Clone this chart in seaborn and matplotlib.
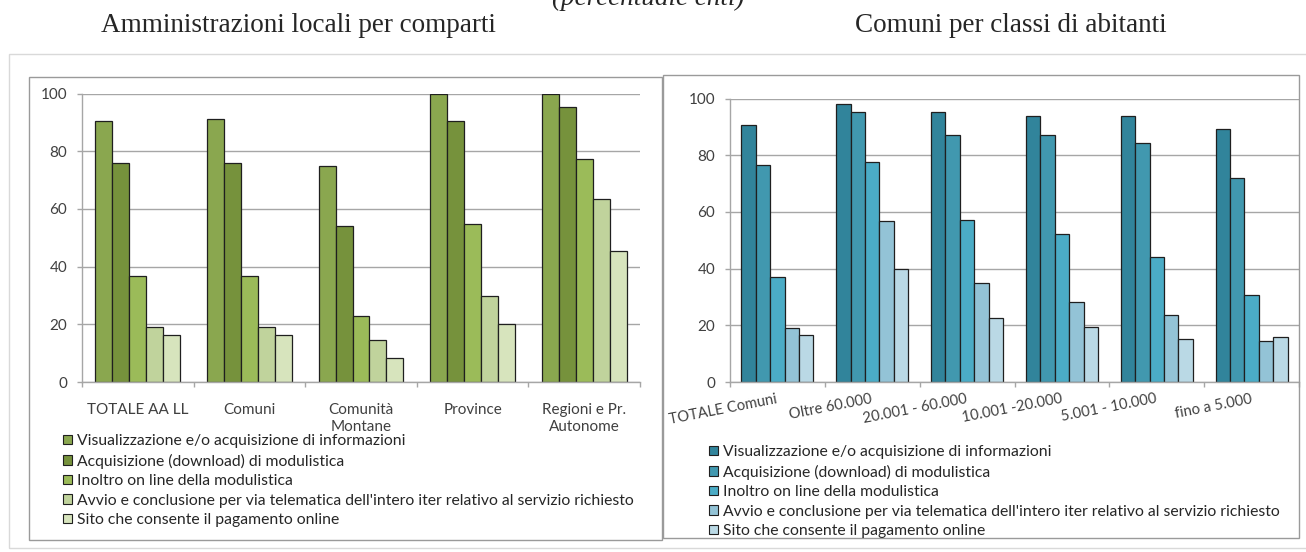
import numpy as np
import pandas as pd
import matplotlib
matplotlib.use('Agg')
import matplotlib.pyplot as plt
from matplotlib.patches import Patch, Rectangle
import seaborn as sns

# data (percent of entities)
series = [
    'Visualizzazione e/o acquisizione di informazioni',
    'Acquisizione (download) di modulistica',
    'Inoltro on line della modulistica',
    "Avvio e conclusione per via telematica dell'intero iter relativo al servizio richiesto",
    'Sito che consente il pagamento online',
]

comparti = ['TOTALE AA LL', 'Comuni', 'Comunità\nMontane', 'Province', 'Regioni e Pr.\nAutonome']
visual_left = [90.4, 91.0, 75.0, 100.0, 100.0]
download_left = [76.0, 76.0, 54.0, 90.4, 95.4]
inoltro_left = [36.8, 36.8, 22.8, 54.9, 77.3]
avvio_left = [19.1, 19.1, 14.6, 29.9, 63.3]
pagamento_left = [16.4, 16.4, 8.2, 20.0, 45.3]

classi = ['TOTALE Comuni', 'Oltre 60.000', '20.001 - 60.000', '10.001 -20.000', '5.001 - 10.000', 'fino a 5.000']
visual_right = [90.7, 98.2, 95.4, 94.0, 94.0, 89.4]
download_right = [76.4, 95.4, 87.0, 87.0, 84.2, 72.0]
inoltro_right = [36.9, 77.7, 57.2, 52.1, 44.2, 30.8]
avvio_right = [18.9, 56.7, 35.0, 28.1, 23.5, 14.6]
pagamento_right = [16.6, 40.0, 22.6, 19.5, 15.2, 15.8]

greens = ['#8AA74F', '#76923C', '#9BBB59', '#C0D39C', '#D7E4BD']
blues = ['#31849B', '#4198AF', '#4BACC6', '#93C3D6', '#BAD9E5']

W, H = 1306, 552
GRID = '#a6a6a6'
TXT = '#404040'

sns.set_style('white')
plt.rcParams['font.family'] = ['Lato', 'DejaVu Sans']


def long_table(cats, cols):
    rows = []
    for s, vals in zip(series, cols):
        for c, v in zip(cats, vals):
            rows.append({'cat': c, 'serie': s, 'val': v})
    return pd.DataFrame(rows)


def px_box(x0, y0, x1, y1):
    return [x0 / W, 1 - y1 / H, (x1 - x0) / W, (y1 - y0) / H]


def panel(ax, cats, cols, colors, rotate=False):
    df = long_table(cats, cols)
    sns.barplot(data=df, x='cat', y='val', hue='serie', order=cats,
                hue_order=series, palette=colors, saturation=1, width=0.76, gap=0,
                edgecolor='#1f1f1f', linewidth=0.9, legend=False, ax=ax)
    n = len(cats)
    ax.set_xlim(-0.5, n - 0.5)
    ax.set_ylim(0, 100)
    ax.set_yticks(range(0, 101, 20))
    ax.set_xlabel('')
    ax.set_ylabel('')
    ax.set_axisbelow(True)
    ax.yaxis.grid(True, color=GRID, lw=1)
    ax.xaxis.grid(False)
    for s in ['top', 'right']:
        ax.spines[s].set_visible(False)
    for s in ['left', 'bottom']:
        ax.spines[s].set_color(GRID)
        ax.spines[s].set_linewidth(1)
    ax.set_xticks(np.arange(-0.5, n), minor=True)
    ax.tick_params(axis='y', length=3.6, width=1, color=GRID, pad=7,
                   labelsize=11, labelcolor=TXT, left=True)
    ax.tick_params(axis='x', which='minor', length=3.6, width=1, color=GRID, bottom=True)
    ax.tick_params(axis='x', which='major', length=0, labelsize=11, labelcolor=TXT)
    if rotate:
        ax.tick_params(axis='x', which='major', pad=12)
        plt.setp(ax.get_xticklabels(), rotation=11, ha='right', va='center',
                 rotation_mode='anchor', fontsize=10.6)
    else:
        ax.tick_params(axis='x', which='major', pad=15)
        plt.setp(ax.get_xticklabels(), linespacing=1.3)


fig = plt.figure(figsize=(W / 100, H / 100), dpi=100)

# outer frame and chart boxes
fig.add_artist(Rectangle((9 / W, 1 - 548 / H), (W + 5 - 9) / W, (548 - 54) / H,
                         transform=fig.transFigure, fill=False, ec='#d9d9d9', lw=1))
fig.add_artist(Rectangle((29 / W, 1 - 540 / H), (662 - 29) / W, (540 - 77) / H,
                         transform=fig.transFigure, fill=False, ec='#9a9a9a', lw=1))
fig.add_artist(Rectangle((663 / W, 1 - 538 / H), (1299 - 663) / W, (538 - 75) / H,
                         transform=fig.transFigure, fill=False, ec='#9a9a9a', lw=1))

ax1 = fig.add_axes(px_box(82, 93.5, 640, 382))
panel(ax1, comparti, [visual_left, download_left, inoltro_left, avvio_left, pagamento_left], greens)

ax2 = fig.add_axes(px_box(730, 98.5, 1299, 382))
panel(ax2, classi, [visual_right, download_right, inoltro_right, avvio_right, pagamento_right], blues, rotate=True)

# legends under each chart
for colors, x, y in [(greens, 63, 434), (blues, 709, 445)]:
    handles = [Patch(facecolor=c, edgecolor='#1f1f1f', lw=0.8) for c in colors]
    fig.legend(handles, series, loc='upper left', bbox_to_anchor=(x / W, 1 - y / H),
               frameon=False, fontsize=11.3, handlelength=0.55, handleheight=0.55,
               handletextpad=0.35, labelspacing=0.35, borderpad=0, borderaxespad=0,
               labelcolor='#262626')

# headings (top one is cut by the page edge in the original)
fig.text(648 / W, 1 - 5 / H, '(percentuale enti)', ha='center', va='baseline',
         fontsize=19.5, style='italic', family=['Liberation Serif', 'DejaVu Serif'])
fig.text(298 / W, 1 - 32 / H, 'Amministrazioni locali per comparti', ha='center',
         va='baseline', fontsize=19.5, family=['Liberation Serif', 'DejaVu Serif'])
fig.text(1011 / W, 1 - 32 / H, 'Comuni per classi di abitanti', ha='center',
         va='baseline', fontsize=19.5, family=['Liberation Serif', 'DejaVu Serif'])

fig.savefig('out.png', dpi=100)
print('Saved out.png')
